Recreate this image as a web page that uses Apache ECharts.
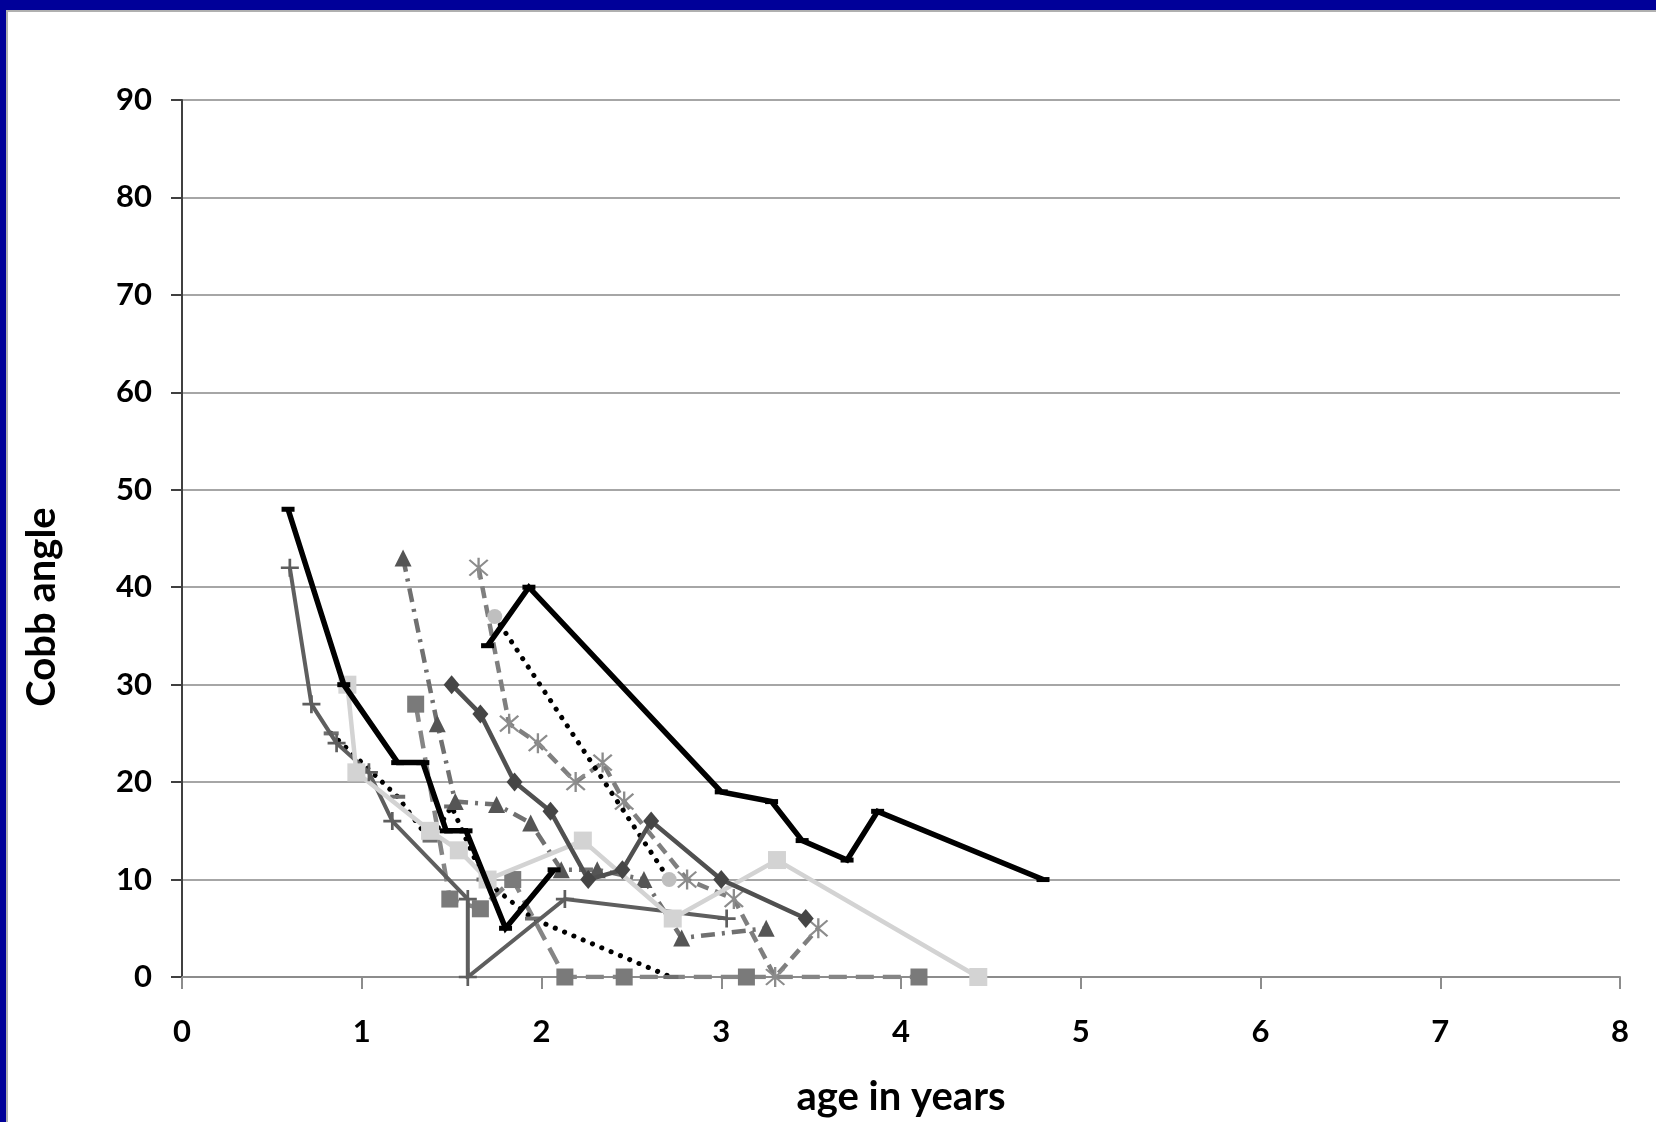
<!DOCTYPE html>
<html>
<head>
<meta charset="utf-8">
<script src="https://cdn.jsdelivr.net/npm/echarts@6/dist/echarts.min.js"></script>
<style>
  html, body { margin: 0; padding: 0; background: #ffffff; }
  #chart { width: 1656px; height: 1122px; }
</style>
</head>
<body>
<div id="chart"></div>
<script>
// ---- data: [age in years, Cobb angle] ----
const serA = [[0.59,48],[0.9,30],[1.2,22],[1.34,22],[1.47,15],[1.58,15],[1.8,5],[2.07,11]];
const serB = [[1.7,34],[1.93,40],[3.0,19],[3.28,18],[3.45,14],[3.7,12],[3.87,17],[4.79,10]];
const serC = [[0.6,42],[0.72,28],[0.86,24],[1.04,21],[1.17,16],[1.59,8],[1.59,0],[2.13,8],[3.03,6]];
const serD = [[0.92,30],[0.97,21],[1.38,15],[1.54,13],[1.7,10],[2.23,14],[2.73,6],[3.31,12],[4.43,0]];
const serE = [[1.5,30],[1.66,27],[1.85,20],[2.05,17],[2.26,10],[2.45,11],[2.61,16],[3.0,10],[3.47,6]];
const serF = [[1.23,43],[1.42,26],[1.52,18],[1.75,17.7],[1.94,15.8],[2.11,11],[2.31,11],[2.57,10],[2.78,4],[3.25,5]];
const serG = [[1.3,28],[1.49,8],[1.66,7],[1.84,10],[2.13,0],[2.46,0],[3.14,0],[4.1,0]];
const serH = [[1.65,42],[1.82,26],[1.98,24],[2.19,20],[2.34,22],[2.46,18],[2.81,10],[3.07,8],[3.3,0],[3.54,5]];
const serI = [[1.74,37],[2.71,10]];
const serJ = [[0.83,25],[1.2,18.5],[1.38,14],[1.5,17.5],[1.68,10],[1.95,6],[2.72,0]];

const xName = 'age in years';
const yName = 'Cobb angle';

const FONT = 'Lato, "Open Sans", sans-serif';
const plusPath = 'path://M8.5,0H11.5V20H8.5Z M0,8.5H20V11.5H0Z';
const starPath = 'path://M9,0H11V20H9Z M1.4,2.8L2.8,1.4L18.6,17.2L17.2,18.6Z M17.2,1.4L18.6,2.8L2.8,18.6L1.4,17.2Z';

function line(data, o) {
  return {
    type: 'line', data: data, animation: false, silent: true,
    symbol: o.symbol || 'none', symbolSize: o.size || 10, showSymbol: !!o.symbol,
    itemStyle: { color: o.mcolor || o.color, borderWidth: 0 },
    lineStyle: { color: o.color, width: o.width || 3, type: o.dash || 'solid', cap: o.cap || 'butt', join: 'miter' },
    z: o.z || 2
  };
}

const chart = echarts.init(document.getElementById('chart'), null, { renderer: 'canvas' });
chart.setOption({
  backgroundColor: '#ffffff',
  animation: false,
  grid: { left: 182, top: 100, width: 1438, height: 877, containLabel: false },
  xAxis: {
    type: 'value', min: 0, max: 8, interval: 1,
    name: xName, nameLocation: 'middle', nameGap: 100,
    nameTextStyle: { fontFamily: FONT, fontWeight: 'bold', fontSize: 40, color: '#000' },
    axisLine: { show: true, lineStyle: { color: '#8c8c8c', width: 2 } },
    axisTick: { show: true, inside: false, length: 12, lineStyle: { color: '#8c8c8c', width: 2 } },
    splitLine: { show: false },
    axisLabel: { fontFamily: FONT, fontWeight: 'bold', fontSize: 31, color: '#000', margin: 39 }
  },
  yAxis: {
    type: 'value', min: 0, max: 90, interval: 10,
    axisLine: { show: true, lineStyle: { color: '#404040', width: 2 } },
    axisTick: { show: true, inside: false, length: 11, lineStyle: { color: '#404040', width: 2 } },
    splitLine: { show: true, lineStyle: { color: '#a6a6a6', width: 2 } },
    axisLabel: { fontFamily: FONT, fontWeight: 'bold', fontSize: 31, color: '#000', margin: 30 }
  },
  graphic: [
    { type: 'rect', shape: { x: 0, y: 0, width: 1656, height: 10 }, style: { fill: '#000099' }, silent: true },
    { type: 'rect', shape: { x: 0, y: 0, width: 6, height: 1122 }, style: { fill: '#000099' }, silent: true },
    { type: 'rect', shape: { x: 6, y: 10, width: 1650, height: 2 }, style: { fill: '#b0b0b0' }, silent: true },
    { type: 'rect', shape: { x: 6, y: 10, width: 2, height: 1112 }, style: { fill: '#b0b0b0' }, silent: true },
    { type: 'text', x: 42, y: 607, rotation: Math.PI / 2, silent: true,
      style: { text: yName, fontFamily: FONT, fontWeight: 'bold', fontSize: 40, fill: '#000',
               textAlign: 'center', textVerticalAlign: 'middle' } }
  ],
  series: [
    line(serG, { color: '#858585', mcolor: '#7a7a7a', symbol: 'rect', size: 17, width: 4.5, dash: [18, 9], z: 2 }),
    line(serH, { color: '#7f7f7f', mcolor: '#8c8c8c', symbol: starPath, size: 20, width: 4.5, dash: [12, 7], z: 2 }),
    line(serI, { color: '#000000', mcolor: '#bfbfbf', symbol: 'circle', size: 15, width: 5, dash: [0.1, 10], cap: 'round', z: 3 }),
    line(serJ, { color: '#000000', mcolor: '#6e6e6e', symbol: 'rect', size: [15, 4], width: 5, dash: [0.1, 10], cap: 'round', z: 3 }),
    line(serF, { color: '#707070', mcolor: '#555555', symbol: 'triangle', size: 17, width: 4.5, dash: [14, 7, 3, 7], z: 3 }),
    line(serC, { color: '#5e5e5e', mcolor: '#5e5e5e', symbol: plusPath, size: 18, width: 4, z: 4 }),
    line(serD, { color: '#d3d3d3', mcolor: '#d3d3d3', symbol: 'rect', size: 18, width: 4.5, z: 4 }),
    line(serE, { color: '#505050', mcolor: '#454545', symbol: 'diamond', size: [16, 19], width: 4.5, z: 5 }),
    line(serA, { color: '#000000', mcolor: '#000000', symbol: 'rect', size: [13, 5], width: 5.5, z: 6 }),
    line(serB, { color: '#000000', mcolor: '#000000', symbol: 'rect', size: [13, 5], width: 5.5, z: 6 })
  ]
});
</script>
</body>
</html>
